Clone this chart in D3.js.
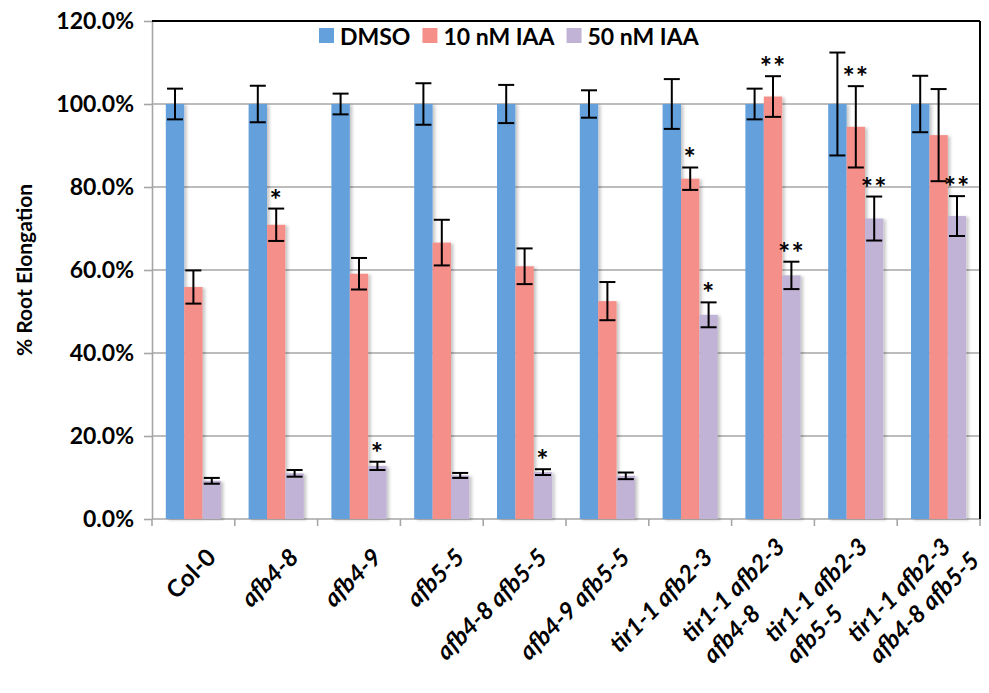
<!DOCTYPE html>
<html>
<head>
<meta charset="utf-8">
<script src="https://cdn.jsdelivr.net/npm/d3@7"></script>
<style>
  body { margin: 0; background: #fff; }
  text { font-family: Lato, "Open Sans", sans-serif; font-weight: bold; fill: #000; }
</style>
</head>
<body>
<svg id="chart" width="989" height="693"></svg>
<script>
(function () {

    // genotypes on the x axis, "\n" splits a label into two lines
    const categories = [
        "Col-0", "afb4-8", "afb4-9", "afb5-5", "afb4-8 afb5-5", "afb4-9 afb5-5",
        "tir1-1 afb2-3", "tir1-1 afb2-3\nafb4-8", "tir1-1 afb2-3\nafb5-5", "tir1-1 afb2-3\nafb4-8 afb5-5"
    ];
    const seriesNames = ["DMSO", "10 nM IAA", "50 nM IAA"];
    const colors = ["#64A0DC", "#F58F89", "#C1B3D5"];

    // % root elongation (means) and error bar half-widths
    const dmso      = [100, 100, 100, 100, 100, 100, 100, 100, 100, 100];
    const dmsoErr   = [3.7, 4.4, 2.5, 5.0, 4.6, 3.3, 6.0, 3.7, 12.4, 6.8];
    const iaa10     = [55.9, 70.9, 59.1, 66.6, 60.9, 52.5, 82.0, 101.8, 94.5, 92.5];
    const iaa10Err  = [4.0, 3.9, 3.8, 5.5, 4.3, 4.6, 2.7, 4.9, 9.8, 11.1];
    const iaa50     = [9.2, 11.0, 12.8, 10.5, 11.3, 10.4, 49.2, 58.7, 72.4, 73.0];
    const iaa50Err  = [0.7, 0.8, 1.0, 0.6, 0.7, 0.8, 3.0, 3.3, 5.3, 4.8];

    const yTicks = [0, 20, 40, 60, 80, 100, 120];

    // significance marks: category index, series index, label
    const stars = [
        { cat: 1, s: 1, t: "*" },
        { cat: 2, s: 2, t: "*" },
        { cat: 4, s: 2, t: "*" },
        { cat: 6, s: 1, t: "*" },
        { cat: 6, s: 2, t: "*" },
        { cat: 7, s: 1, t: "**" },
        { cat: 7, s: 2, t: "**" },
        { cat: 8, s: 1, t: "**" },
        { cat: 8, s: 2, t: "**" },
        { cat: 9, s: 2, t: "**" }
    ];

    const means = [dmso, iaa10, iaa50];
    const errs = [dmsoErr, iaa10Err, iaa50Err];

    const svg = d3.select('#chart');
    const left = 152, right = 980, top = 21, bottom = 519;

    const x0 = d3.scaleBand().domain(categories).range([left, right]).padding(0);
    const step = x0.bandwidth();
    const x1 = d3.scaleBand().domain(d3.range(3)).range([step / 6, step * 5 / 6]).padding(0);
    const y = d3.scaleLinear().domain([0, 120]).range([bottom, top]);

    const defs = svg.append('defs');
    defs.append('filter').attr('id', 'shadow')
        .attr('x', '-30%').attr('y', '-5%').attr('width', '180%').attr('height', '110%')
        .append('feDropShadow')
        .attr('dx', 2.5).attr('dy', 1).attr('stdDeviation', 1.5)
        .attr('flood-color', '#000').attr('flood-opacity', 0.22);

    // gridlines
    svg.append('g').selectAll('line')
        .data(yTicks.filter(t => t > 0 && t < 120))
        .enter().append('line')
        .attr('x1', left).attr('x2', right)
        .attr('y1', d => y(d)).attr('y2', d => y(d))
        .attr('stroke', '#A6A6A6').attr('stroke-width', 1.6);

    // y axis
    const yAxis = svg.append('g')
        .attr('transform', `translate(${left},0)`)
        .call(d3.axisLeft(y).tickValues(yTicks).tickSize(8).tickSizeOuter(0).tickPadding(10)
            .tickFormat(d => d.toFixed(1) + '%'));
    yAxis.select('.domain').attr('stroke', '#A6A6A6').attr('stroke-width', 1.6);
    yAxis.selectAll('.tick line').attr('stroke', '#A6A6A6').attr('stroke-width', 1.6);
    yAxis.selectAll('.tick text').style('font-size', '23px').attr('fill', '#000');

    // x axis line and boundary ticks
    svg.append('line')
        .attr('x1', left).attr('x2', right).attr('y1', bottom).attr('y2', bottom)
        .attr('stroke', '#A6A6A6').attr('stroke-width', 1.6);
    svg.append('g').selectAll('line')
        .data(d3.range(categories.length + 1))
        .enter().append('line')
        .attr('x1', i => left + i * step).attr('x2', i => left + i * step)
        .attr('y1', bottom).attr('y2', bottom + 7)
        .attr('stroke', '#A6A6A6').attr('stroke-width', 1.6);

    // bars
    const groups = svg.append('g').selectAll('g')
        .data(categories)
        .enter().append('g')
        .attr('transform', d => `translate(${x0(d)},0)`);

    groups.selectAll('rect')
        .data((d, i) => means.map((m, s) => ({ s: s, v: m[i], e: errs[s][i] })))
        .enter().append('rect')
        .attr('x', d => x1(d.s))
        .attr('width', x1.bandwidth())
        .attr('y', d => y(d.v))
        .attr('height', d => y(0) - y(d.v))
        .attr('fill', d => colors[d.s])
        .attr('filter', 'url(#shadow)');

    // error bars
    const eb = groups.selectAll('g.err')
        .data((d, i) => means.map((m, s) => ({ s: s, v: m[i], e: errs[s][i] })))
        .enter().append('g').attr('class', 'err')
        .attr('stroke', '#000').attr('stroke-width', 2);
    const cx = d => x1(d.s) + x1.bandwidth() / 2;
    eb.append('line')
        .attr('x1', cx).attr('x2', cx)
        .attr('y1', d => y(d.v + d.e)).attr('y2', d => y(d.v - d.e));
    eb.append('line')
        .attr('x1', d => cx(d) - 8).attr('x2', d => cx(d) + 8)
        .attr('y1', d => y(d.v + d.e)).attr('y2', d => y(d.v + d.e));
    eb.append('line')
        .attr('x1', d => cx(d) - 8).attr('x2', d => cx(d) + 8)
        .attr('y1', d => y(d.v - d.e)).attr('y2', d => y(d.v - d.e));

    // significance stars
    svg.append('g').selectAll('text')
        .data(stars)
        .enter().append('text')
        .attr('x', d => x0(categories[d.cat]) + x1(d.s) + x1.bandwidth() / 2)
        .attr('y', d => y(means[d.s][d.cat] + errs[d.s][d.cat]) + 1)
        .attr('text-anchor', 'middle')
        .style('font-size', '29px')
        .style('letter-spacing', '1px')
        .text(d => d.t);

    // plot border (top and right)
    svg.append('line').attr('x1', left).attr('x2', right).attr('y1', top).attr('y2', top)
        .attr('stroke', '#000').attr('stroke-width', 2);
    svg.append('line').attr('x1', right).attr('x2', right).attr('y1', top).attr('y2', bottom)
        .attr('stroke', '#000').attr('stroke-width', 2);

    // x labels, rotated
    const lineGap = 30;
    categories.forEach(c => {
        const lines = c.split('\n');
        const g = svg.append('g')
            .attr('transform', `translate(${x0(c) + step / 2 + 24},${bottom + 40}) rotate(-45)`);
        const first = g.append('text')
            .attr('x', 0)
            .attr('y', -(lines.length - 1) * lineGap / 2)
            .attr('text-anchor', 'end')
            .style('font-size', '24px')
            .style('font-style', c === 'Col-0' ? 'normal' : 'italic')
            .text(lines[0]);
        const len = first.node().getComputedTextLength();
        lines.slice(1).forEach((l, k) => {
            g.append('text')
                .attr('x', -len)
                .attr('y', -(lines.length - 1) * lineGap / 2 + (k + 1) * lineGap)
                .attr('text-anchor', 'start')
                .style('font-size', '24px')
                .style('font-style', 'italic')
                .text(l);
        });
    });

    // y title
    svg.append('text')
        .attr('transform', `translate(32,${(top + bottom) / 2}) rotate(-90)`)
        .attr('text-anchor', 'middle')
        .style('font-size', '21px')
        .text('% Root Elongation');

    // legend
    let lx = 319;
    seriesNames.forEach((n, i) => {
        svg.append('rect').attr('x', lx).attr('y', 28).attr('width', 15).attr('height', 15)
            .attr('fill', colors[i]);
        const t = svg.append('text').attr('x', lx + 21).attr('y', 45)
            .style('font-size', '23px').text(n);
        lx += 21 + t.node().getComputedTextLength() + 12;
    });

})();
</script>
</body>
</html>
